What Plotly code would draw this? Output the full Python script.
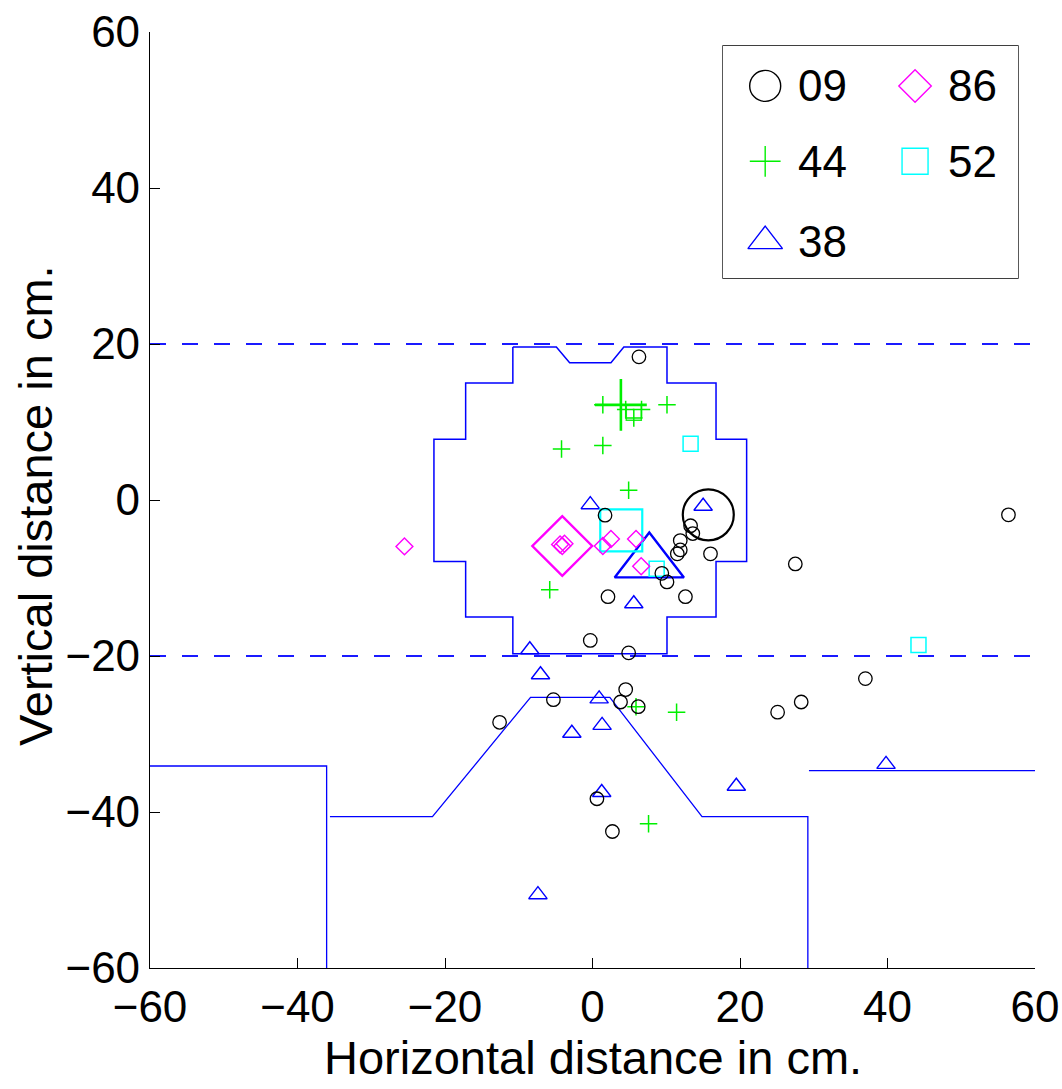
import plotly.graph_objects as go

# ---------------- data ----------------
# series "09" (black circles)
s09_x = [6.3, 1.7, 13.3, 13.6, 11.9, 11.9, 11.5, 16.0, 9.4, 10.1, 2.1, 12.6, -0.3, 4.9,
         4.5, -5.3, 3.8, 6.2, -12.6, 25.1, 28.3, 37.0, 0.6, 2.7, 56.4, 27.5]
s09_y = [18.35, -1.95, -3.3, -4.3, -5.2, -6.4, -6.9, -6.9, -9.4, -10.5, -12.4, -12.4, -18.0, -19.6,
         -24.3, -25.6, -25.9, -26.5, -28.5, -27.2, -25.9, -22.9, -38.3, -42.5, -1.9, -8.2]
s09_big_x = [15.7]
s09_big_y = [-1.9]

# series "44" (green plus)
s44_x = [1.4, 4.5, 6.65, 5.6, 10.1, 1.4, -4.2, 4.9, -5.8, 5.9, 11.4, 7.6]
s44_y = [12.2, 11.6, 11.6, 10.5, 12.2, 7.0, 6.55, 1.25, -11.5, -26.5, -27.2, -41.5]
s44_big_x = [3.85]
s44_big_y = [12.2]

# series "38" (blue triangles)
s38_x = [-0.3, 15.0, 5.6, -8.5, -7.05, 0.9, 1.3, -2.8, 1.25, -7.4, 19.5, 39.8]
s38_y = [-0.6, -0.8, -13.3, -19.2, -22.4, -25.5, -28.9, -29.9, -37.5, -50.6, -36.7, -33.9]
s38_big_x = [7.7]
s38_big_y = [-8.0]

# series "86" (magenta diamonds)
s86_x = [-4.4, -4.1, -3.8, 2.5, 1.4, 5.9, 6.6, -25.5]
s86_y = [-5.7, -5.9, -5.6, -5.0, -5.9, -5.0, -8.5, -5.95]
s86_big_x = [-4.1]
s86_big_y = [-5.9]

# series "52" (cyan squares)
s52_x = [5.6, 13.3, 8.7, 44.2]
s52_y = [11.2, 7.2, -8.8, -18.6]
s52_colors = ["#22ee22", "cyan", "cyan", "cyan"]
s52_big_x = [3.9]
s52_big_y = [-3.9]

# boundary outlines
center_x = [-10.8, -4.9, -3.1, 2.5, 4.25, 10.1, 10.1, 16.75, 16.75, 20.9, 20.9, 16.75, 16.75,
            10.1, 10.1, -10.8, -10.8, -17.2, -17.2, -21.5, -21.5, -17.2, -17.2, -10.8, -10.8]
center_y = [19.6, 19.6, 17.6, 17.6, 19.6, 19.6, 15.0, 15.0, 7.8, 7.8, -7.9, -7.9, -15.0,
            -15.0, -19.7, -19.7, -15.0, -15.0, -7.9, -7.9, 7.8, 7.8, 15.0, 15.0, 19.6]
lower_x = [-60, -36.05, -36.05, None,
           -35.6, -21.7, -8.4, 2.35, 14.85, 29.2, 29.2, None,
           29.35, 60]
lower_y = [-34.1, -34.1, -62, None,
           -40.6, -40.6, -25.3, -25.3, -40.6, -40.6, -62, None,
           -34.7, -34.7]
band_x = [-60, 60, None, -60, 60]
band_y = [20, 20, None, -20, -20]

tick_vals = [-60, -40, -20, 0, 20, 40, 60]
legend_labels = ["09", "44", "38", "86", "52"]
x_title = "Horizontal distance in cm."
y_title = "Vertical distance in cm."

FONT = "Liberation Sans"
GREEN = "#00f000"
fig = go.Figure()

fig.add_trace(go.Scatter(x=band_x, y=band_y, mode="lines",
                         line=dict(color="#1a1aff", width=1.8, dash="16px,16px"), showlegend=False))
fig.add_trace(go.Scatter(x=center_x, y=center_y, mode="lines",
                         line=dict(color="blue", width=1.5), showlegend=False))
fig.add_trace(go.Scatter(x=lower_x, y=lower_y, mode="lines",
                         line=dict(color="blue", width=1.3), showlegend=False))


def add_pts(x, y, symbol, color, size, lw):
    fig.add_trace(go.Scatter(x=x, y=y, mode="markers", showlegend=False,
                             marker=dict(symbol=symbol, size=size, color=color,
                                         line=dict(width=lw, color=color))))


add_pts(s38_x, s38_y, "triangle-up-open", "blue", 16, 1.4)
add_pts(s38_big_x, s38_big_y, "triangle-up-open", "blue", 60, 2.4)
add_pts(s52_x, s52_y, "square-open", s52_colors, 15, 1.5)
add_pts(s52_big_x, s52_big_y, "square-open", "cyan", 42, 2.2)
add_pts(s86_x, s86_y, "diamond-open", "magenta", 13, 1.4)
add_pts(s86_big_x, s86_big_y, "diamond-open", "magenta", 46, 2.4)
add_pts(s44_x, s44_y, "cross-thin-open", GREEN, 12.5, 1.5)
add_pts(s44_big_x, s44_big_y, "cross-thin-open", GREEN, 37, 2.6)
add_pts(s09_x, s09_y, "circle-open", "black", 13.5, 1.3)
add_pts(s09_big_x, s09_big_y, "circle-open", "black", 51, 2.2)

# ---- legend drawn on a small overlay axis ----
leg_sym = ["circle-open", "cross-thin-open", "triangle-up-open", "diamond-open", "square-open"]
leg_col = ["black", GREEN, "blue", "magenta", "cyan"]
leg_size = [31, 22, 30, 25, 26]
leg_x = [0.143, 0.143, 0.143, 0.651, 0.651]
leg_y = [0.828, 0.503, 0.159, 0.828, 0.503]
for i in range(5):
    fig.add_trace(go.Scatter(x=[leg_x[i]], y=[leg_y[i]], xaxis="x2", yaxis="y2", mode="markers",
                             showlegend=False, hoverinfo="skip",
                             marker=dict(symbol=leg_sym[i], size=leg_size[i], color=leg_col[i],
                                         line=dict(width=1.4, color=leg_col[i]))))
    fig.add_annotation(x=leg_x[i] + 0.106, y=leg_y[i], xref="x2", yref="y2", text=legend_labels[i],
                       showarrow=False, xanchor="left", yanchor="middle",
                       font=dict(family=FONT, size=44, color="black"))

# plot area in page pixels (body margin removed by the post script)
PL, PR, PT, PB = 150, 1035, 32, 968
W, H = 1062, 1089
PW, PH = PR - PL, PB - PT

# axis titles as annotations
fig.add_annotation(x=0.5, y=(PB - 1086) / PH, xref="paper", yref="paper", text=x_title,
                   showarrow=False, xanchor="center", yanchor="bottom",
                   font=dict(family=FONT, size=47, color="black"))
fig.add_annotation(x=(35 - PL) / PW, y=(PB - 506) / PH, xref="paper", yref="paper", text=y_title,
                   showarrow=False, xanchor="center", yanchor="middle", textangle=-90,
                   font=dict(family=FONT, size=47, color="black"))

LX0, LX1 = (723 - PL) / PW, (1018 - PL) / PW
LY0, LY1 = (PB - 278) / PH, (PB - 46) / PH

fig.update_layout(
    width=W, height=H,
    margin=dict(l=PL, r=W - PR, t=PT, b=H - PB),
    paper_bgcolor="white", plot_bgcolor="white",
    font=dict(family=FONT, size=44, color="black"),
    xaxis=dict(range=[-60, 60], tickvals=tick_vals, ticks="inside", ticklen=10, tickwidth=1,
               tickcolor="black", showline=True, linecolor="black", linewidth=1.2,
               showgrid=False, zeroline=False, tickfont=dict(size=44), automargin=False,
               ticklabeloverflow="allow"),
    yaxis=dict(range=[-60, 60], tickvals=tick_vals, ticks="inside", ticklen=10, tickwidth=1,
               tickcolor="black", showline=True, linecolor="black", linewidth=1.2,
               showgrid=False, zeroline=False, tickfont=dict(size=44), automargin=False,
               ticklabeloverflow="allow"),
    xaxis2=dict(domain=[LX0, LX1], range=[0, 1], visible=False, anchor="y2"),
    yaxis2=dict(domain=[LY0, LY1], range=[0, 1], visible=False, anchor="x2"),
    shapes=[dict(type="rect", xref="paper", yref="paper", x0=LX0, x1=LX1, y0=LY0, y1=LY1,
                 line=dict(color="black", width=1.3), fillcolor="white", layer="below")],
)

fig.write_html("out.html", config={"displayModeBar": False},
               post_script="document.body.style.margin='0px';")
